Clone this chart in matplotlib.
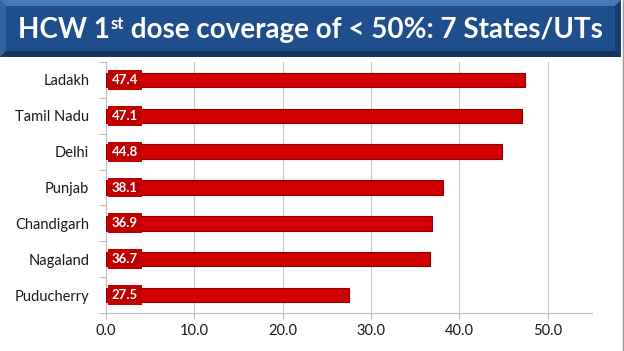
import matplotlib
matplotlib.use("Agg")
import matplotlib.pyplot as plt
from matplotlib.patches import Rectangle, Polygon
from matplotlib.lines import Line2D

categories = ["Ladakh", "Tamil Nadu", "Delhi", "Punjab", "Chandigarh", "Nagaland", "Puducherry"]
values = [47.4, 47.1, 44.8, 38.1, 36.9, 36.7, 27.5]
xticks = [0, 10, 20, 30, 40, 50]
xticklabels = ["0.0", "10.0", "20.0", "30.0", "40.0", "50.0"]

W, H = 624, 351
fig = plt.figure(figsize=(W / 100, H / 100), dpi=100)
fig.patch.set_facecolor("white")
FONT = "Lato"

def fx(px):
    return px / W
def fy(py):
    return 1 - py / H

# Title banner (bevelled)
x0, x1, y0, y1 = 0, 621, 0, 57
b = 6
fig.patches.append(Rectangle((fx(x0), fy(y1)), fx(x1) - fx(x0), fy(y0) - fy(y1),
                             transform=fig.transFigure, facecolor="#1F4E8C", edgecolor="none"))
fig.patches.append(Polygon([(fx(x0), fy(y0)), (fx(x1), fy(y0)), (fx(x1 - b), fy(y0 + b)), (fx(x0 + b), fy(y0 + b))],
                           closed=True, transform=fig.transFigure, facecolor="#4A78B4", edgecolor="none"))
fig.patches.append(Polygon([(fx(x0), fy(y0)), (fx(x0 + b), fy(y0 + b)), (fx(x0 + b), fy(y1 - b)), (fx(x0), fy(y1))],
                           closed=True, transform=fig.transFigure, facecolor="#3563A0", edgecolor="none"))
fig.patches.append(Polygon([(fx(x1), fy(y0)), (fx(x1 - b), fy(y0 + b)), (fx(x1 - b), fy(y1 - b)), (fx(x1), fy(y1))],
                           closed=True, transform=fig.transFigure, facecolor="#183E70", edgecolor="none"))
fig.patches.append(Polygon([(fx(x0), fy(y1)), (fx(x1), fy(y1)), (fx(x1 - b), fy(y1 - b)), (fx(x0 + b), fy(y1 - b))],
                           closed=True, transform=fig.transFigure, facecolor="#14335E", edgecolor="none"))

# Title text in pieces (superscript "st")
renderer = fig.canvas.get_renderer()
fs = 20
parts = [("HCW 1", fs, 0), ("st", fs * 0.6, 9), (" dose coverage of < 50%: 7 States/UTs", fs, 0)]
texts = []
widths = []
for s, size, dy in parts:
    t = fig.text(0, 0, s, fontsize=size, fontweight="bold", color="white", family=FONT,
                 va="baseline", ha="left")
    texts.append((t, dy))
    widths.append(t.get_window_extent(renderer).width)
total = sum(widths)
start = (W - 3 - total) / 2
base_y = 38
cur = start
for (t, dy), w in zip(texts, widths):
    t.set_position((fx(cur), fy(base_y) + dy / H))
    cur += w

# right border line
fig.add_artist(Line2D([fx(622.5), fx(622.5)], [0, 1], transform=fig.transFigure, color="#9A9A9A", lw=1.0))

# Axes
ax = fig.add_axes([fx(106), fy(313), fx(592) - fx(106), (313 - 62) / H])
y = list(range(len(categories)))
ax.barh(y, values, height=0.40, color="#D00000", edgecolor="#8E0000", linewidth=0.8, zorder=3)
ax.set_ylim(len(categories) - 0.5, -0.5)
ax.set_xlim(0, 55)
ax.set_xticks(xticks)
ax.set_xticklabels(xticklabels, family=FONT, fontsize=10.5, color="#1a1a1a")
ax.set_yticks(y)
ax.set_yticklabels(categories, family=FONT, fontsize=10.5, color="#1a1a1a")
ax.tick_params(axis="y", length=0, pad=12)
ax.set_yticks([i + 0.5 for i in range(-1, len(categories))], minor=True)
ax.tick_params(axis="y", which="minor", length=5, color="#BFBFBF", width=0.8)
ax.tick_params(axis="x", length=4, color="#BFBFBF", width=0.8, pad=4)
ax.grid(axis="x", color="#C8C8C8", linewidth=0.8, zorder=0)
for sp in ["top", "right"]:
    ax.spines[sp].set_visible(False)
for sp in ["left", "bottom"]:
    ax.spines[sp].set_color("#BFBFBF")
    ax.spines[sp].set_linewidth(0.8)

for yi, v in zip(y, values):
    ax.annotate(f"{v:.1f}", xy=(0, yi), xytext=(4, 0), textcoords="offset points",
                ha="left", va="center", fontsize=9.5, fontweight="bold", color="white", family=FONT,
                zorder=5,
                bbox=dict(boxstyle="square,pad=0.3", facecolor="#C00000", edgecolor="none"))

fig.savefig("out.png", dpi=100)
